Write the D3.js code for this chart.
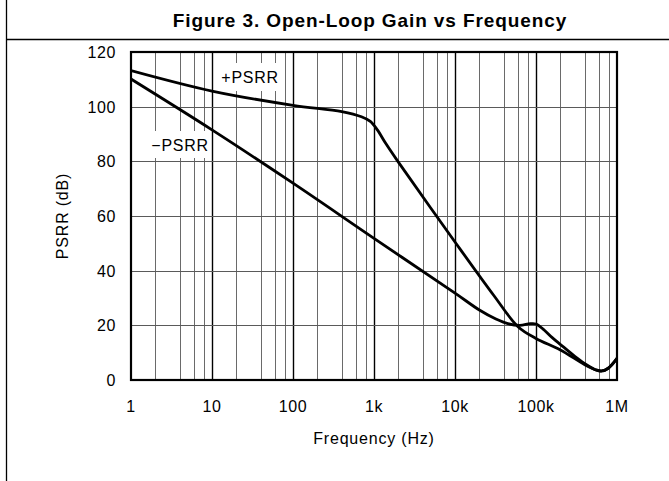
<!DOCTYPE html>
<html>
<head>
<meta charset="utf-8">
<script src="https://cdn.jsdelivr.net/npm/d3@7"></script>
<style>
  body { margin: 0; background: #fff; }
  text { font-family: "Liberation Sans", Arial, sans-serif; fill: #000; }
</style>
</head>
<body>
<svg width="669" height="481"></svg>
<script>
// +PSRR curve (Hz, dB)
const posFreq = [1, 10, 100, 400, 700, 900, 1100, 1400, 2000, 10000, 30000, 60000, 100000, 200000, 400000, 560000, 650000, 780000, 1000000];
const posPsrr = [113.2, 105.7, 100.5, 98.2, 96.3, 94.6, 91.5, 86.5, 79.7, 50.5, 31, 19.5, 15.2, 11, 5.6, 3.6, 3.3, 4.3, 7.9];

// -PSRR curve (Hz, dB)
const negFreq = [1, 10, 100, 1000, 10000, 20000, 32000, 45000, 63000, 85000, 100000, 126000, 160000, 220000, 316000, 420000, 560000, 650000, 780000, 1000000];
const negPsrr = [110.1, 91.5, 72, 51.8, 31.8, 25.6, 22.3, 20.6, 20, 20.6, 20.5, 18.3, 15.4, 12, 8.2, 5.6, 3.6, 3.3, 4.3, 7.9];

const xTicks = [1, 10, 100, 1000, 10000, 100000, 1000000];
const xTickLabels = ["1", "10", "100", "1k", "10k", "100k", "1M"];
const yTicks = [0, 20, 40, 60, 80, 100, 120];

var svg = d3.select("svg"),
    width = +svg.attr("width"),
    height = +svg.attr("height");

// plot box (window.top is read-only, so no bare "top")
var plotL = 131, plotR = 617, plotT = 52, plotB = 380;

var x = d3.scaleLog().domain([1, 1e6]).range([plotL, plotR]);
var y = d3.scaleLinear().domain([0, 120]).range([plotB, plotT]);

// outer frame: left rule and title rule
svg.append("line").attr("x1", 6.5).attr("x2", 6.5).attr("y1", 0).attr("y2", height)
    .attr("stroke", "#000").attr("stroke-width", 1.3);
svg.append("line").attr("x1", 6).attr("x2", width).attr("y1", 39.5).attr("y2", 39.5)
    .attr("stroke", "#000").attr("stroke-width", 1.3);

svg.append("text")
    .attr("x", 370).attr("y", 27)
    .attr("text-anchor", "middle")
    .style("font-size", "19px").style("font-weight", "bold").style("letter-spacing", "0.9px")
    .text("Figure 3. Open-Loop Gain vs Frequency");

// minor / major vertical grid
var minor = [];
for (var d = 1; d < 1e6; d *= 10) {
    [2, 4, 6, 8].forEach(m => minor.push(d * m));
}
svg.append("g").selectAll("line").data(minor).enter().append("line")
    .attr("x1", d => Math.round(x(d)) + 0.5).attr("x2", d => Math.round(x(d)) + 0.5)
    .attr("y1", plotT).attr("y2", plotB)
    .attr("stroke", "#6a6a6a").attr("stroke-width", 1);

svg.append("g").selectAll("line").data(xTicks.slice(1, -1)).enter().append("line")
    .attr("x1", d => Math.round(x(d)) + 0.5).attr("x2", d => Math.round(x(d)) + 0.5)
    .attr("y1", plotT).attr("y2", plotB)
    .attr("stroke", "#000").attr("stroke-width", 1.4);

svg.append("g").selectAll("line").data(yTicks.slice(1, -1)).enter().append("line")
    .attr("x1", plotL).attr("x2", plotR)
    .attr("y1", d => Math.round(y(d)) + 0.5).attr("y2", d => Math.round(y(d)) + 0.5)
    .attr("stroke", "#5a5a5a").attr("stroke-width", 1.2);

// curve labels with white boxes over the grid
function curveLabel(txt, bx, by, bw, bh, tx, ty) {
    svg.append("rect").attr("x", bx).attr("y", by).attr("width", bw).attr("height", bh).attr("fill", "#fff");
    svg.append("text").attr("x", tx).attr("y", ty)
        .attr("text-anchor", "middle")
        .style("font-size", "16px").style("letter-spacing", "0.7px")
        .text(txt);
}
curveLabel("+PSRR", 216, 63, 67, 28, 250, 82.5);
curveLabel("\u2212PSRR", 147, 131, 64, 27, 180, 151);

svg.append("clipPath").attr("id", "plotclip")
    .append("rect").attr("x", plotL).attr("y", plotT).attr("width", plotR - plotL).attr("height", plotB - plotT);

var line = d3.line()
    .x(d => x(d[0]))
    .y(d => y(d[1]))
    .curve(d3.curveCatmullRom.alpha(0.5));

[[posFreq, posPsrr], [negFreq, negPsrr]].forEach(s => {
    svg.append("path")
        .datum(d3.zip(s[0], s[1]))
        .attr("clip-path", "url(#plotclip)")
        .attr("fill", "none")
        .attr("stroke", "#000")
        .attr("stroke-width", 2.8)
        .attr("stroke-linejoin", "round")
        .attr("d", line);
});

// plot border
svg.append("rect")
    .attr("x", plotL).attr("y", plotT).attr("width", plotR - plotL).attr("height", plotB - plotT)
    .attr("fill", "none").attr("stroke", "#000").attr("stroke-width", 2.2);

// tick labels
svg.append("g").selectAll("text").data(xTicks).enter().append("text")
    .attr("x", d => x(d)).attr("y", 411.5)
    .attr("text-anchor", "middle")
    .style("font-size", "16px").style("letter-spacing", "0.6px")
    .text((d, i) => xTickLabels[i]);

svg.append("g").selectAll("text").data(yTicks).enter().append("text")
    .attr("x", 116).attr("y", d => y(d) + 6)
    .attr("text-anchor", "end")
    .style("font-size", "16px").style("letter-spacing", "0.6px")
    .text(d => d);

svg.append("text")
    .attr("x", 374).attr("y", 444)
    .attr("text-anchor", "middle")
    .style("font-size", "16px").style("letter-spacing", "0.8px")
    .text("Frequency (Hz)");

svg.append("text")
    .attr("transform", "translate(68,216) rotate(-90)")
    .attr("text-anchor", "middle")
    .style("font-size", "16px").style("letter-spacing", "0.8px")
    .text("PSRR (dB)");
</script>
</body>
</html>
